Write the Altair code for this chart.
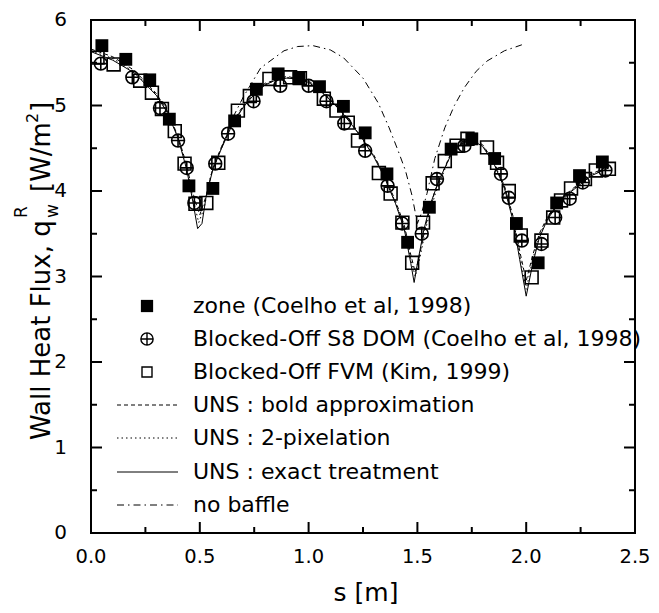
import altair as alt
import pandas as pd

FONT = "DejaVu Sans"

# ---------------- data ----------------
# zone (Coelho et al, 1998) - filled squares
zone_s = [0.05, 0.16, 0.27, 0.36, 0.45, 0.56, 0.66, 0.76, 0.86, 0.955, 1.05, 1.16,
          1.26, 1.36, 1.455, 1.555, 1.655, 1.75, 1.855, 1.955, 2.055, 2.14, 2.245, 2.35]
zone_q = [5.70, 5.54, 5.30, 4.84, 4.06, 4.03, 4.82, 5.19, 5.37, 5.32, 5.22, 4.99,
          4.68, 4.20, 3.40, 3.81, 4.49, 4.61, 4.38, 3.62, 3.16, 3.86, 4.18, 4.34]

# Blocked-Off S8 DOM (Coelho et al, 1998) - circle with cross
dom_s = [0.045, 0.19, 0.317, 0.40, 0.44, 0.475, 0.571, 0.63, 0.747, 0.87, 1.0, 1.082,
         1.164, 1.26, 1.363, 1.43, 1.52, 1.59, 1.716, 1.884, 1.92, 1.98, 2.07, 2.133,
         2.2, 2.26, 2.364]
dom_q = [5.49, 5.33, 4.97, 4.59, 4.27, 3.86, 4.32, 4.67, 5.05, 5.23, 5.23, 5.05,
         4.79, 4.47, 4.06, 3.62, 3.50, 4.14, 4.53, 4.20, 3.92, 3.42, 3.38, 3.69,
         3.91, 4.10, 4.24]

# Blocked-Off FVM (Kim, 1999) - open squares
fvm_s = [0.03, 0.104, 0.226, 0.28, 0.326, 0.385, 0.43, 0.48, 0.53, 0.585, 0.675, 0.73,
         0.82, 0.915, 0.96, 1.07, 1.128, 1.18, 1.227, 1.323, 1.377, 1.431, 1.476, 1.526,
         1.57, 1.626, 1.68, 1.73, 1.82, 1.866, 1.92, 1.975, 2.025, 2.07, 2.124, 2.16,
         2.206, 2.27, 2.32, 2.38]
fvm_q = [5.56, 5.48, 5.29, 5.15, 4.96, 4.70, 4.32, 3.85, 3.86, 4.33, 4.94, 5.11,
         5.31, 5.33, 5.32, 5.08, 4.94, 4.80, 4.59, 4.21, 3.97, 3.63, 3.16, 3.63,
         4.09, 4.35, 4.53, 4.61, 4.51, 4.33, 4.00, 3.48, 2.99, 3.42, 3.69, 3.89,
         4.03, 4.14, 4.24, 4.26]

# UNS : exact treatment (solid)
exact_s = [0.0, 0.1, 0.2, 0.3, 0.35, 0.4, 0.44, 0.47, 0.49, 0.51, 0.53, 0.56, 0.6, 0.65,
           0.7, 0.75, 0.8, 0.85, 0.9, 0.95, 1.0, 1.05, 1.1, 1.15, 1.2, 1.25, 1.3, 1.35,
           1.4, 1.44, 1.47, 1.485, 1.5, 1.53, 1.56, 1.6, 1.65, 1.7, 1.75, 1.8, 1.85,
           1.9, 1.94, 1.97, 2.0, 2.03, 2.06, 2.1, 2.15, 2.2, 2.25, 2.3, 2.38]
exact_q = [5.63, 5.53, 5.38, 5.12, 4.92, 4.62, 4.25, 3.85, 3.56, 3.62, 3.95, 4.25, 4.50,
           4.78, 4.98, 5.13, 5.24, 5.30, 5.32, 5.31, 5.27, 5.18, 5.06, 4.93, 4.77, 4.60,
           4.40, 4.15, 3.85, 3.55, 3.15, 2.93, 3.15, 3.55, 3.85, 4.13, 4.40, 4.55, 4.60,
           4.52, 4.33, 4.03, 3.65, 3.20, 2.77, 3.15, 3.45, 3.68, 3.85, 3.98, 4.08, 4.18,
           4.27]

# UNS : bold approximation (dashed)
bold_s = [0.0, 0.1, 0.2, 0.3, 0.35, 0.4, 0.44, 0.47, 0.5, 0.53, 0.56, 0.6, 0.65, 0.7,
          0.75, 0.8, 0.9, 1.0, 1.1, 1.2, 1.3, 1.35, 1.4, 1.44, 1.47, 1.49, 1.51, 1.54,
          1.58, 1.65, 1.7, 1.75, 1.8, 1.85, 1.9, 1.94, 1.97, 2.0, 2.03, 2.06, 2.1, 2.15,
          2.2, 2.25, 2.3, 2.38]
bold_q = [5.66, 5.57, 5.41, 5.14, 4.94, 4.64, 4.30, 3.95, 3.72, 3.95, 4.27, 4.52, 4.80,
          5.00, 5.15, 5.26, 5.34, 5.29, 5.08, 4.79, 4.42, 4.17, 3.88, 3.60, 3.25, 3.05,
          3.25, 3.62, 4.00, 4.42, 4.57, 4.62, 4.54, 4.35, 4.06, 3.70, 3.30, 2.95, 3.25,
          3.50, 3.71, 3.87, 4.00, 4.10, 4.20, 4.29]

# UNS : 2-pixelation (dotted)
pix_s = [0.0, 0.1, 0.2, 0.3, 0.35, 0.4, 0.44, 0.47, 0.495, 0.52, 0.55, 0.6, 0.65, 0.7,
         0.75, 0.8, 0.9, 1.0, 1.1, 1.2, 1.3, 1.35, 1.4, 1.44, 1.47, 1.49, 1.51, 1.54,
         1.58, 1.65, 1.7, 1.75, 1.8, 1.85, 1.9, 1.94, 1.97, 2.0, 2.03, 2.06, 2.1, 2.15,
         2.2, 2.25, 2.3, 2.38]
pix_q = [5.64, 5.55, 5.39, 5.13, 4.93, 4.63, 4.27, 3.90, 3.63, 3.80, 4.18, 4.51, 4.79,
         4.99, 5.14, 5.25, 5.33, 5.28, 5.07, 4.78, 4.41, 4.16, 3.86, 3.57, 3.20, 3.00,
         3.20, 3.58, 3.95, 4.41, 4.56, 4.61, 4.53, 4.34, 4.05, 3.68, 3.25, 2.85, 3.20,
         3.47, 3.70, 3.86, 3.99, 4.09, 4.19, 4.28]

# no baffle (dash-dot)
nob_s = [0.6, 0.65, 0.7, 0.78, 0.887, 0.95, 1.02, 1.1, 1.16, 1.25, 1.32, 1.37, 1.41,
         1.445, 1.475, 1.5, 1.52, 1.544, 1.58, 1.626, 1.67, 1.716, 1.77, 1.82, 1.9, 1.98]
nob_q = [4.50, 4.85, 5.10, 5.44, 5.64, 5.69, 5.70, 5.65, 5.56, 5.32, 5.03, 4.74, 4.48,
         4.24, 3.95, 3.62, 3.75, 3.97, 4.38, 4.74, 5.00, 5.21, 5.40, 5.52, 5.64, 5.71]

# axis ticks / tick labels
x_major = [0.0, 0.5, 1.0, 1.5, 2.0, 2.5]
x_minor = [0.25, 0.75, 1.25, 1.75, 2.25]
y_major = [0, 1, 2, 3, 4, 5, 6]
y_minor = [0.5, 1.5, 2.5, 3.5, 4.5, 5.5]

legend_labels = ["zone (Coelho et al, 1998)",
                 "Blocked-Off S8 DOM (Coelho et al, 1998)",
                 "Blocked-Off FVM (Kim, 1999)",
                 "UNS : bold approximation",
                 "UNS : 2-pixelation",
                 "UNS : exact treatment",
                 "no baffle"]

# ---------------- chart ----------------
W, H = 544, 513
CIRCLE_PLUS = "M-1,0A1,1,0,1,1,1,0A1,1,0,1,1,-1,0ZM-1,0L1,0M0,-1L0,1"

x_scale = alt.Scale(domain=[0, 2.5], nice=False, zero=False)
y_scale = alt.Scale(domain=[0, 6], nice=False, zero=False)


def X():
    return alt.X("s:Q", scale=x_scale, axis=None)


def Y():
    return alt.Y("q:Q", scale=y_scale, axis=None)


def df(s, q):
    return pd.DataFrame({"s": s, "q": q})


one = pd.DataFrame({"t": [0]})
layers = []

# frame: a rectangle plus four edge rules
layers.append(alt.Chart(one).mark_rect(
    filled=False, stroke="black", strokeWidth=2).encode(
    x=alt.value(0), x2=alt.value(W), y=alt.value(0), y2=alt.value(H)))
for (x1, x2, y1, y2) in [(0, W, 0, 0), (0, W, H, H), (0, 0, 0, H), (W, W, 0, H)]:
    layers.append(alt.Chart(one).mark_rule(color="black", strokeWidth=1.5).encode(
        x=alt.value(x1), x2=alt.value(x2), y=alt.value(y1), y2=alt.value(y2)))


def line(s, q, dash=None):
    kw = dict(color="black", strokeWidth=1.0)
    if dash:
        kw["strokeDash"] = dash
    return alt.Chart(df(s, q)).mark_line(**kw).encode(x=X(), y=Y(), order="s:Q")

layers.append(line(nob_s, nob_q, [7, 4, 1.5, 4]))
layers.append(line(bold_s, bold_q, [4, 3]))
layers.append(line(pix_s, pix_q, [1.5, 3]))
layers.append(line(exact_s, exact_q, None))

# markers
layers.append(alt.Chart(df(zone_s, zone_q)).mark_point(
    shape="square", filled=True, size=165, color="black", opacity=1).encode(x=X(), y=Y()))
layers.append(alt.Chart(df(dom_s, dom_q)).mark_point(
    shape=CIRCLE_PLUS, filled=False, size=165, color="black", strokeWidth=1.6, opacity=1
).encode(x=X(), y=Y()))
layers.append(alt.Chart(df(fvm_s, fvm_q)).mark_point(
    shape="square", filled=False, size=165, color="black", strokeWidth=1.6, opacity=1
).encode(x=X(), y=Y()))


# inward ticks on all four sides, placed by the shared scales
def xticks(vals, length):
    d = pd.DataFrame({"s": vals})
    return [
        alt.Chart(d).mark_rule(color="black", strokeWidth=2).encode(
            x=X(), y=alt.value(H - length), y2=alt.value(H)),
        alt.Chart(d).mark_rule(color="black", strokeWidth=2).encode(
            x=X(), y=alt.value(0), y2=alt.value(length)),
    ]


def yticks(vals, length):
    d = pd.DataFrame({"q": vals})
    return [
        alt.Chart(d).mark_rule(color="black", strokeWidth=2).encode(
            y=Y(), x=alt.value(0), x2=alt.value(length)),
        alt.Chart(d).mark_rule(color="black", strokeWidth=2).encode(
            y=Y(), x=alt.value(W - length), x2=alt.value(W)),
    ]

layers += xticks(x_major, 11) + xticks(x_minor, 6) + yticks(y_major, 11) + yticks(y_minor, 6)

# tick labels (placed through the scales)
layers.append(alt.Chart(pd.DataFrame({"s": x_major})).mark_text(
    font=FONT, fontSize=19.5, align="center", baseline="middle", color="black").encode(
    x=X(), y=alt.value(H + 24), text=alt.Text("s:Q", format=".1f")))
layers.append(alt.Chart(pd.DataFrame({"q": y_major})).mark_text(
    font=FONT, fontSize=20, align="right", baseline="middle", color="black").encode(
    y=Y(), x=alt.value(-24), text=alt.Text("q:Q", format="d")))


def txt(text, x, y, size, angle=0, align="left", baseline="middle"):
    return alt.Chart(pd.DataFrame({"t": [text]})).mark_text(
        font=FONT, fontSize=size, angle=angle, align=align, baseline=baseline,
        color="black").encode(text="t:N", x=alt.value(x), y=alt.value(y))

# x-axis title
layers.append(txt("s [m]", W / 2 + 3, 573, 25, align="center"))

# legend (manual)
row_y = [286, 319, 352, 385, 418, 452, 485]
sym_x = 56
layers.append(alt.Chart(one).mark_point(
    shape="square", filled=True, size=150, color="black", opacity=1).encode(
    x=alt.value(sym_x), y=alt.value(row_y[0])))
layers.append(alt.Chart(one).mark_point(
    shape=CIRCLE_PLUS, filled=False, size=150, color="black", strokeWidth=1.4, opacity=1
).encode(x=alt.value(sym_x), y=alt.value(row_y[1])))
layers.append(alt.Chart(one).mark_point(
    shape="square", filled=False, size=100, color="black", strokeWidth=1.4, opacity=1
).encode(x=alt.value(sym_x), y=alt.value(row_y[2])))
for i, dash in zip([3, 4, 5, 6], [[4, 3], [1.5, 3], None, [7, 4, 1.5, 4]]):
    kw = dict(color="black", strokeWidth=1)
    if dash:
        kw["strokeDash"] = dash
    layers.append(alt.Chart(one).mark_rule(**kw).encode(
        x=alt.value(26), x2=alt.value(87), y=alt.value(row_y[i])))
for lab, ry in zip(legend_labels, row_y):
    layers.append(txt(lab, 102, ry, 22))

# y-axis title with super/subscripts (rotated)
layers.append(txt("Wall Heat Flux, q", -41, 420, 26, angle=270, baseline="alphabetic"))
layers.append(txt("R", -64, 198, 17, angle=270, baseline="alphabetic"))
layers.append(txt("w", -33, 198, 17, angle=270, baseline="alphabetic"))
layers.append(txt("[W/m", -41, 172, 26, angle=270, baseline="alphabetic"))
layers.append(txt("2", -53, 103, 16, angle=270, baseline="alphabetic"))
layers.append(txt("]", -41, 92, 26, angle=270, baseline="alphabetic"))

chart = alt.layer(*layers).properties(
    width=W, height=H,
    autosize=alt.AutoSizeParams(type="none"),
    padding={"left": 83, "top": 12, "right": 16, "bottom": 76},
    background="white",
).configure_view(stroke="black", strokeWidth=2)

chart.save("out.html", embed_options={"renderer": "svg", "actions": False})
